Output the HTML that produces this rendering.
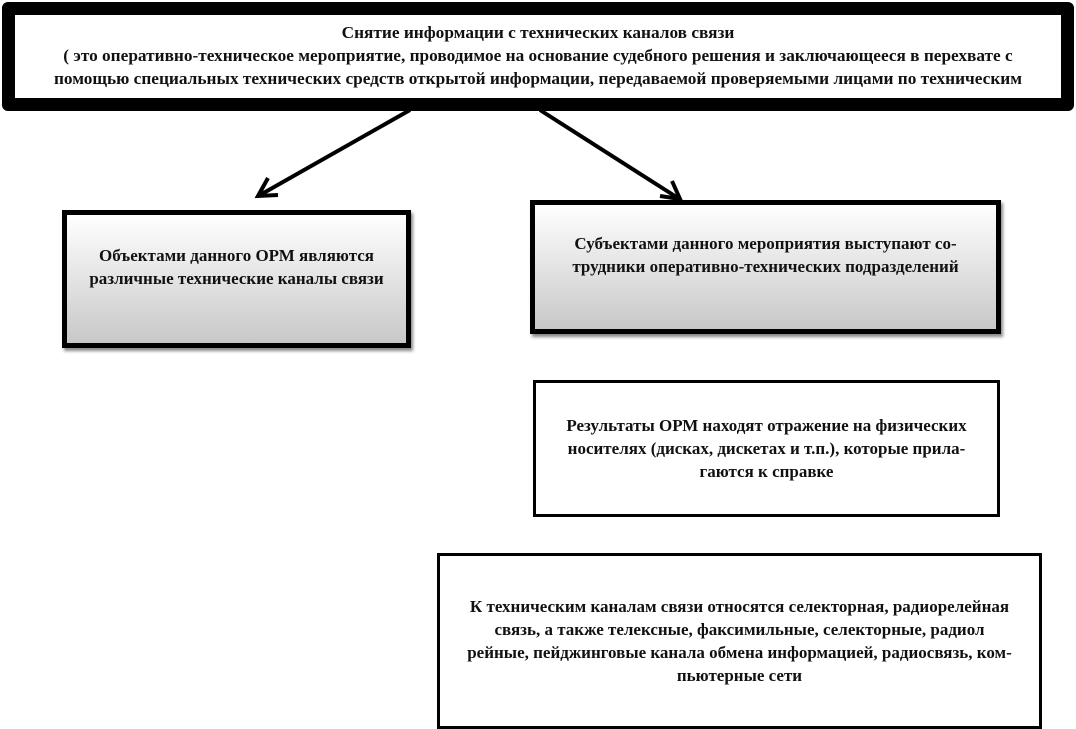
<!DOCTYPE html>
<html><head><meta charset="utf-8"><style>
html,body{margin:0;padding:0;background:#fff;}
body{width:1076px;height:729px;position:relative;overflow:hidden;font-family:"Liberation Serif","Noto Serif CJK SC",serif;font-weight:bold;color:#111;}
.b{position:absolute;box-sizing:border-box;display:flex;align-items:center;justify-content:center;text-align:center;font-size:17px;line-height:23px;white-space:nowrap;}
.g{background:linear-gradient(#fff,#c8c8c8);border:5px solid #000;box-shadow:2px 3px 3px #888;padding-bottom:24px;}
.w{background:#fff;border:3px solid #000;}
</style></head><body>
<div class="b" style="left:2px;top:2px;width:1072px;height:109px;border:13px solid #000;border-radius:6px;background:#fff;align-items:flex-start;padding-top:6px;line-height:23px;font-size:17.3px;">
<div>Снятие информации с технических каналов связи<br>( это оперативно-техническое мероприятие, проводимое на основание судебного решения и заключающееся в перехвате с<br>помощью специальных технических средств открытой информации, передаваемой проверяемыми лицами по техническим</div>
</div>
<svg style="position:absolute;left:0;top:0" width="1076" height="729">
<g stroke="#000" stroke-width="4" fill="none">
<line x1="410" y1="110" x2="260" y2="195"/>
<polyline points="268,178 258,196 278,195"/>
<line x1="540" y1="110" x2="678" y2="198"/>
<polyline points="660,196 680,199 672,181"/>
</g></svg>
<div class="b g" style="left:62px;top:210px;width:349px;height:138px;"><div>Объектами данного ОРМ являются<br>различные технические каналы связи</div></div>
<div class="b g" style="left:530px;top:200px;width:471px;height:134px;"><div>Субъектами данного мероприятия выступают со-<br>трудники оперативно-технических подразделений</div></div>
<div class="b w" style="left:533px;top:380px;width:467px;height:137px;"><div>Результаты ОРМ находят отражение на физических<br>носителях (дисках, дискетах и т.п.), которые прила-<br>гаются к справке</div></div>
<div class="b w" style="left:437px;top:553px;width:605px;height:176px;"><div>К техническим каналам связи относятся селекторная, радиорелейная<br>связь, а также телексные, факсимильные, селекторные, радиол<br>рейные, пейджинговые канала обмена информацией, радиосвязь, ком-<br>пьютерные сети</div></div>
</body></html>
